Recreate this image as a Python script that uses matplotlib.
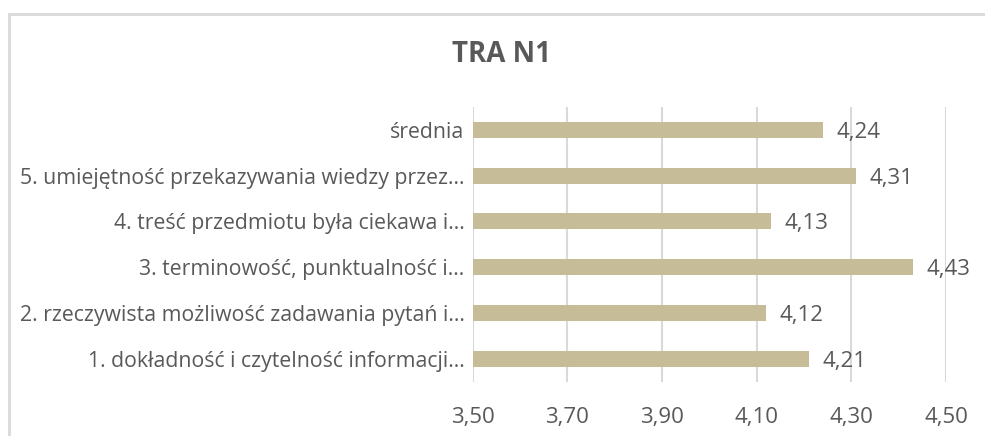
import matplotlib
matplotlib.use("Agg")
import matplotlib.pyplot as plt
from matplotlib.patches import Rectangle

# data (bottom to top)
categories = [
    "1. dokładność i czytelność informacji...",
    "2. rzeczywista możliwość zadawania pytań i...",
    "3. terminowość, punktualność i...",
    "4. treść przedmiotu była ciekawa i...",
    "5. umiejętność przekazywania wiedzy przez...",
    "średnia",
]
values = [4.21, 4.12, 4.43, 4.13, 4.31, 4.24]
xticks = [3.50, 3.70, 3.90, 4.10, 4.30, 4.50]

bar_color = "#c6bd98"
text_color = "#595959"
grid_color = "#d9d9d9"

plt.rcParams['font.family'] = ['Open Sans', 'DejaVu Sans']

fig = plt.figure(figsize=(9.85, 4.36), dpi=100)
ax = fig.add_axes([0.480, 0.125, 0.4804, 0.6296])

# chart border (only top/left visible in the crop)
fig.patches.append(Rectangle((9 / 985, -0.1), 1.2, 1 - 14 / 436 + 0.1,
                             transform=fig.transFigure, fill=False,
                             edgecolor=grid_color, linewidth=2))

ypos = range(len(categories))
ax.barh(ypos, [v - 3.5 for v in values], left=3.5, height=0.35, color=bar_color, zorder=3)

for y, v in zip(ypos, values):
    ax.text(v + 0.028, y, ("%.2f" % v).replace(".", ","), va="center_baseline", ha="left",
            fontsize=16, color=text_color)

ax.set_xlim(3.5, 4.5)
ax.set_ylim(-0.5, len(categories) - 0.5)
ax.set_xticks(xticks)
ax.set_xticklabels([("%.2f" % t).replace(".", ",") for t in xticks])
ax.set_yticks(list(ypos))
ax.set_yticklabels(categories)
ax.tick_params(axis="both", length=0, labelcolor=text_color)
ax.tick_params(axis="x", pad=18, labelsize=16)
ax.tick_params(axis="y", pad=6, labelsize=15.3)
ax.grid(axis="x", color=grid_color, linewidth=1.5, zorder=0)
for s in ax.spines.values():
    s.set_visible(False)

fig.text(502 / 985, 1 - 55 / 436, "TRA N1", ha="center", va="center",
         fontsize=20, fontweight="bold", color=text_color)

fig.savefig("out.png", dpi=100)
